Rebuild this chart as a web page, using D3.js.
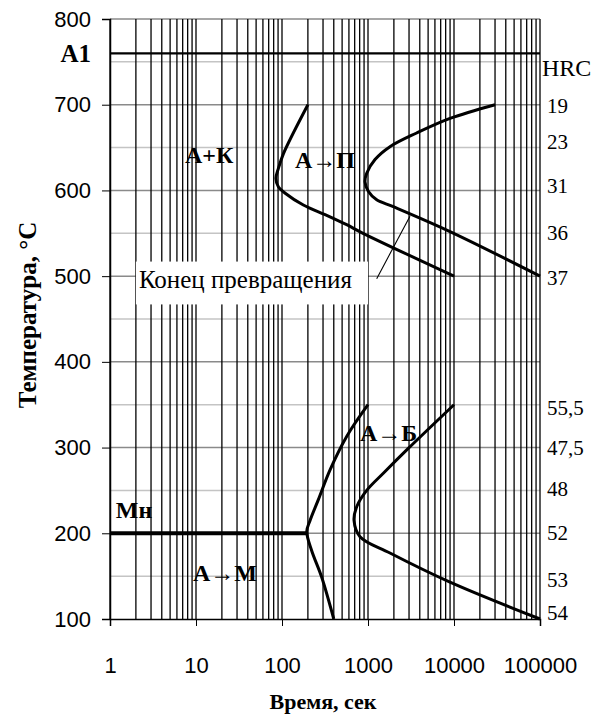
<!DOCTYPE html>
<html><head><meta charset="utf-8">
<script src="https://cdn.jsdelivr.net/npm/d3@7"></script>
<style>body{margin:0;background:#fff}svg{display:block}</style>
</head><body>
<svg id="c" width="600" height="720"></svg>
<script>
// ---- data ----
const xTicks = [1, 10, 100, 1000, 10000, 100000];
const xTickLabels = ["1", "10", "100", "1000", "10000", "100000"];
const yTicks = [100, 200, 300, 400, 500, 600, 700, 800];
const yMinor = [150, 250, 350, 450, 550, 650, 750];

const pearliteStartTime = [200, 104, 91, 85, 91, 108, 177, 331, 565, 875, 10000];
const pearliteStartTemp = [700, 643, 626, 614, 604, 597, 583, 571, 560, 550, 500];

const pearliteEndTime = [30000, 8980, 3680, 1800, 1206, 966, 923, 1008, 1262, 1969, 8980, 100000];
const pearliteEndTemp = [700, 684, 667, 651, 636, 620, 610, 599, 589, 581, 552, 500];

const bainiteStartTime = [1000, 565, 362, 264, 212, 194, 221, 289, 400];
const bainiteStartTemp = [350, 313, 274, 239, 215, 202, 180, 149, 100];

const bainiteEndTime = [10000, 2940, 1507, 966, 739, 688, 807, 1800, 8980, 100000];
const bainiteEndTemp = [350, 299, 270, 250, 231, 215, 196, 177, 143, 100];

const msTime = [1, 200];
const msTemp = [200, 200];
const a1Time = [1, 100000];
const a1Temp = [760, 760];

const hrcLabels = ["19", "23", "31", "36", "37", "55,5", "47,5", "48", "52", "53", "54"];
const hrcTemps  = [698, 656, 605, 550, 498, 346, 300, 252, 200, 146, 107];

const regionLabels = ["А+К", "А→П", "А→Б", "А→М", "Мн"];
const regionTime   = [7.45, 141.6, 807, 9.23, 1.17];
const regionTemp   = [641, 635.5, 317, 153.6, 227];

const noteText = "Конец превращения";
const noteBoxTime = [2, 1000];
const noteBoxTemp = [467, 517];
const noteTextTime = 2.17;
const noteTextTemp = 496;
const leaderTime = [1262, 3078];
const leaderTemp = [497, 570];

// ---- chart ----
const svg = d3.select("#c");
const x = d3.scaleLog().domain([1, 100000]).range([110, 540]);
const y = d3.scaleLinear().domain([100, 800]).range([619, 19]);

const serif = "'Liberation Serif','Times New Roman',serif";
const sans = "'Liberation Sans',Arial,sans-serif";

// horizontal grid
svg.append("g").selectAll("line").data(yMinor).join("line")
  .attr("x1", x(1)).attr("x2", x(100000))
  .attr("y1", d => y(d)).attr("y2", d => y(d))
  .attr("stroke", "#c4c4c4").attr("stroke-width", 1.5);
svg.append("g").selectAll("line").data(yTicks.filter(d => d > 100)).join("line")
  .attr("x1", x(1)).attr("x2", x(100000))
  .attr("y1", d => y(d)).attr("y2", d => y(d))
  .attr("stroke", "#8a8a8a").attr("stroke-width", 1.5);

// vertical grid (log)
const vLines = [];
for (let k = 0; k < 5; k++) for (let m = 1; m <= 9; m++) vLines.push(m * Math.pow(10, k));
vLines.push(100000);
svg.append("g").selectAll("line").data(vLines).join("line")
  .attr("x1", d => x(d)).attr("x2", d => x(d))
  .attr("y1", y(800)).attr("y2", y(100))
  .attr("stroke", "#000").attr("stroke-width", 1.3);

// axes
const xAxis = d3.axisBottom(x).tickValues(xTicks).tickFormat((d, i) => xTickLabels[i]).tickSize(7).tickPadding(31);
const gx = svg.append("g").attr("transform", `translate(0,${y(100)})`).call(xAxis);
gx.select(".domain").attr("stroke", "#000").attr("stroke-width", 1.5);
gx.selectAll("text").attr("font-family", sans).attr("font-size", 22).attr("fill", "#000");

const yAxis = d3.axisLeft(y).tickValues(yTicks).tickSize(8).tickPadding(11);
const gy = svg.append("g").attr("transform", `translate(${x(1)},0)`).call(yAxis);
gy.select(".domain").attr("stroke", "#000").attr("stroke-width", 1.5);
gy.selectAll("text").attr("font-family", sans).attr("font-size", 22).attr("fill", "#000");
gy.selectAll(".tick line").attr("stroke", "#000");
gx.selectAll(".tick line").attr("stroke", "#000");

// A1 line
const lineGen = d3.line().x(d => x(d[0])).y(d => y(d[1]));
svg.append("path").datum(d3.zip(a1Time, a1Temp)).attr("d", lineGen)
  .attr("fill", "none").attr("stroke", "#000").attr("stroke-width", 2.2);

// Ms line
svg.append("path").datum(d3.zip(msTime, msTemp)).attr("d", lineGen)
  .attr("fill", "none").attr("stroke", "#000").attr("stroke-width", 4);

// curves
const curveGen = d3.line().x(d => x(d[0])).y(d => y(d[1])).curve(d3.curveCatmullRom.alpha(0.5));
[[pearliteStartTime, pearliteStartTemp], [pearliteEndTime, pearliteEndTemp],
 [bainiteStartTime, bainiteStartTemp], [bainiteEndTime, bainiteEndTemp]].forEach(([t, T]) => {
  svg.append("path").datum(d3.zip(t, T)).attr("d", curveGen)
    .attr("fill", "none").attr("stroke", "#000").attr("stroke-width", 3)
    .attr("stroke-linejoin", "round");
});

// note box
svg.append("rect")
  .attr("x", x(noteBoxTime[0])).attr("width", x(noteBoxTime[1]) - x(noteBoxTime[0]))
  .attr("y", y(noteBoxTemp[1])).attr("height", y(noteBoxTemp[0]) - y(noteBoxTemp[1]))
  .attr("fill", "#fff");
svg.append("text").attr("x", x(noteTextTime)).attr("y", y(noteTextTemp))
  .attr("dominant-baseline", "central")
  .attr("font-family", serif).attr("font-size", 25).text(noteText);
svg.append("path").datum(d3.zip(leaderTime, leaderTemp)).attr("d", lineGen)
  .attr("fill", "none").attr("stroke", "#000").attr("stroke-width", 1.1);

// region labels
regionLabels.forEach((s, i) => {
  const t = svg.append("text").attr("x", x(regionTime[i])).attr("y", y(regionTemp[i]))
    .attr("dominant-baseline", "central")
    .attr("font-family", serif).attr("font-size", 24).attr("font-weight", "bold");
  if (s.includes("→")) {
    const [a, b] = s.split("→");
    t.append("tspan").text(a);
    t.append("tspan").attr("font-weight", "normal").text("→");
    t.append("tspan").text(b);
  } else t.text(s);
});

// A1 label
svg.append("text").attr("x", 91).attr("y", y(a1Temp[0]))
  .attr("text-anchor", "end").attr("dominant-baseline", "central")
  .attr("font-family", serif).attr("font-size", 25).attr("font-weight", "bold").text("A1");

// HRC labels
svg.append("text").attr("x", x(100000) + 2).attr("y", y(743))
  .attr("dominant-baseline", "central")
  .attr("font-family", serif).attr("font-size", 24).text("HRC");
svg.append("g").selectAll("text").data(hrcLabels).join("text")
  .attr("x", x(100000) + 7).attr("y", (d, i) => y(hrcTemps[i]))
  .attr("dominant-baseline", "central")
  .attr("font-family", serif).attr("font-size", 21).text(d => d);

// axis titles
svg.append("text").attr("x", 323).attr("y", 701)
  .attr("text-anchor", "middle").attr("dominant-baseline", "central")
  .attr("font-family", serif).attr("font-size", 22).attr("font-weight", "bold").text("Время, сек");
svg.append("text").attr("transform", "translate(27,315) rotate(-90)")
  .attr("text-anchor", "middle").attr("dominant-baseline", "central")
  .attr("font-family", serif).attr("font-size", 25).attr("font-weight", "bold").text("Температура, °C");
</script>
</body></html>
